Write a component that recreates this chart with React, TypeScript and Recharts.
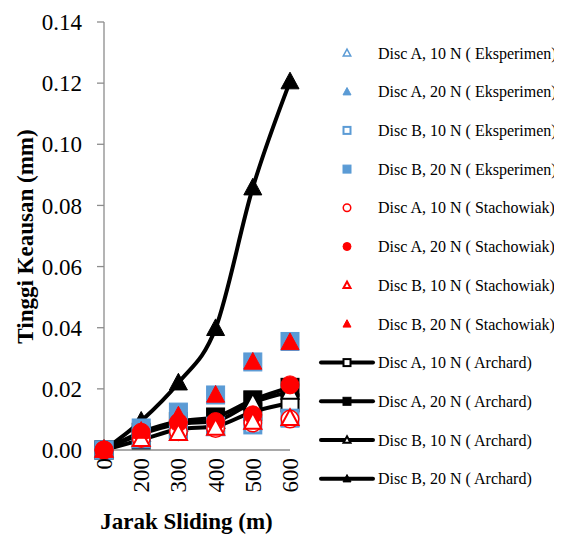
import React from "react";
import { ComposedChart, Line, XAxis, YAxis, Legend } from "recharts";

const jarak = ["0", "200", "300", "400", "500", "600"];
const yTicks = [0, 0.02, 0.04, 0.06, 0.08, 0.1, 0.12, 0.14];

// Eksperimen
const expA10 = [0, 0.003, 0.0055, 0.007, 0.009, 0.0101];
const expA20 = [0, 0.0068, 0.012, 0.018, 0.0288, 0.0352];
const expB10 = [0, 0.0042, 0.0062, 0.0078, 0.0082, 0.0104];
const expB20 = [0, 0.0072, 0.0124, 0.018, 0.0288, 0.0355];
// Stachowiak
const staA10 = [0, 0.0038, 0.006, 0.007, 0.0088, 0.0101];
const staA20 = [0, 0.0058, 0.009, 0.0093, 0.0115, 0.0213];
const staB10 = [0, 0.0035, 0.0055, 0.0072, 0.0092, 0.0104];
const staB20 = [0, 0.0062, 0.0112, 0.018, 0.0288, 0.0352];
// Archard
const arcA10 = [0, 0.0033, 0.0068, 0.0078, 0.0125, 0.0154];
const arcA20 = [0, 0.0058, 0.0093, 0.0108, 0.0164, 0.0205];
const arcB10 = [0, 0.0052, 0.0085, 0.0095, 0.0155, 0.019];
const arcB20 = [0, 0.0095, 0.022, 0.0398, 0.0858, 0.1205];

const data = jarak.map((x, i) => ({
  x,
  expA10: expA10[i],
  expA20: expA20[i],
  expB10: expB10[i],
  expB20: expB20[i],
  staA10: staA10[i],
  staA20: staA20[i],
  staB10: staB10[i],
  staB20: staB20[i],
  arcA10: arcA10[i],
  arcA20: arcA20[i],
  arcB10: arcB10[i],
  arcB20: arcB20[i],
}));

const BLUE = "#5b9bd5";
const RED = "#ff0000";
const FONT = '"Liberation Serif", "Times New Roman", serif';

type Shape = "tri" | "sq" | "circle";
type MarkerSpec = { shape: Shape; fill: string; stroke: string; sw: number };

function marker(m: MarkerSpec, cx: number, cy: number, s: number, key?: string) {
  const h = s / 2;
  if (m.shape === "circle") {
    return <circle key={key} cx={cx} cy={cy} r={h - m.sw / 2} fill={m.fill} stroke={m.stroke} strokeWidth={m.sw} />;
  }
  if (m.shape === "sq") {
    const a = h - m.sw / 2;
    return <rect key={key} x={cx - a} y={cy - a} width={a * 2} height={a * 2} fill={m.fill} stroke={m.stroke} strokeWidth={m.sw} />;
  }
  const a = h - m.sw / 2;
  const pts = `${cx},${cy - a * 1.05} ${cx + a},${cy + a * 0.8} ${cx - a},${cy + a * 0.8}`;
  return <polygon key={key} points={pts} fill={m.fill} stroke={m.stroke} strokeWidth={m.sw} strokeLinejoin="miter" />;
}

const dotOf = (m: MarkerSpec, s: number) => (p: any) =>
  marker(m, p.cx, p.cy, s, `${p.dataKey}-${p.index}`);

type Series = { key: string; name: string; m: MarkerSpec; line: boolean };

const series: Series[] = [
  { key: "expA10", name: "Disc A, 10 N ( Eksperimen)", m: { shape: "tri", fill: "#fff", stroke: BLUE, sw: 1.5 }, line: false },
  { key: "expA20", name: "Disc A, 20 N ( Eksperimen)", m: { shape: "tri", fill: BLUE, stroke: BLUE, sw: 1 }, line: false },
  { key: "expB10", name: "Disc B, 10 N ( Eksperimen)", m: { shape: "sq", fill: "#fff", stroke: BLUE, sw: 3 }, line: false },
  { key: "expB20", name: "Disc B, 20 N ( Eksperimen)", m: { shape: "sq", fill: BLUE, stroke: BLUE, sw: 1 }, line: false },
  { key: "staA10", name: "Disc A, 10 N ( Stachowiak)", m: { shape: "circle", fill: "#fff", stroke: RED, sw: 1.5 }, line: false },
  { key: "staA20", name: "Disc A, 20 N ( Stachowiak)", m: { shape: "circle", fill: RED, stroke: RED, sw: 1 }, line: false },
  { key: "staB10", name: "Disc B, 10 N ( Stachowiak)", m: { shape: "tri", fill: "#fff", stroke: RED, sw: 2 }, line: false },
  { key: "staB20", name: "Disc B, 20 N ( Stachowiak)", m: { shape: "tri", fill: RED, stroke: RED, sw: 1 }, line: false },
  { key: "arcA10", name: "Disc A, 10 N ( Archard)", m: { shape: "sq", fill: "#fff", stroke: "#000", sw: 2 }, line: true },
  { key: "arcA20", name: "Disc A, 20 N ( Archard)", m: { shape: "sq", fill: "#000", stroke: "#000", sw: 1 }, line: true },
  { key: "arcB10", name: "Disc B, 10 N ( Archard)", m: { shape: "tri", fill: "#fff", stroke: "#000", sw: 2 }, line: true },
  { key: "arcB20", name: "Disc B, 20 N ( Archard)", m: { shape: "tri", fill: "#000", stroke: "#000", sw: 1 }, line: true },
];

// draw the Archard lines first, markers of the other series on top
const drawOrder = [...series.filter((s) => s.line), ...series.filter((s) => !s.line)];

function LegendBox() {
  return (
    <svg width={254} height={500} style={{ display: "block", overflow: "visible" }}>
      {series.map((s, i) => {
        const y = 45 + i * 38.7;
        return (
          <g key={s.key}>
            {s.line && <line x1={13} x2={65} y1={y} y2={y} stroke="#000" strokeWidth={4} strokeLinecap="round" />}
            {marker({ ...s.m, sw: Math.min(s.m.sw, 2) }, 39, y, 9)}
            <text x={70} y={y} dy="0.35em" fontFamily={FONT} fontSize={16} fill="#000">
              {s.name}
            </text>
          </g>
        );
      })}
    </svg>
  );
}

function XTick(props: any) {
  const { x, y, payload } = props;
  return (
    <text
      x={x}
      y={y + 8}
      transform={`rotate(-90, ${x}, ${y + 8})`}
      textAnchor="end"
      dy="0.35em"
      fontFamily={FONT}
      fontSize={23}
      fill="#000"
    >
      {payload.value}
    </text>
  );
}

export default function App() {
  return (
    <ComposedChart
      width={554}
      height={530}
      data={data}
      style={{ fontFamily: FONT }}
      margin={{ top: 14, right: 272, bottom: 8, left: 0 }}
    >
      <XAxis
        dataKey="x"
        type="category"
        scale="point"
        height={80}
        tickLine={false}
        tickSize={0}
        tickMargin={0}
        axisLine={{ stroke: "#8c8c8c", strokeWidth: 1.3 }}
        tick={<XTick />}
        interval={0}
        label={{
          content: () => (
            <text
              x={178.5}
              y={521}
              textAnchor="middle"
              fontFamily={FONT}
              fontWeight="bold"
              fontSize={23}
              fill="#000"
            >
              Jarak Sliding (m)
            </text>
          ),
        }}
      />
      <YAxis
        width={96}
        domain={[0, 0.14]}
        ticks={yTicks}
        interval={0}
        tickSize={7}
        tickMargin={15}
        tickFormatter={(v: number) => v.toFixed(2)}
        tickLine={{ stroke: "#8c8c8c", strokeWidth: 1.3 }}
        axisLine={{ stroke: "#8c8c8c", strokeWidth: 1.3 }}
        tick={{ fontFamily: FONT, fontSize: 23, fill: "#000" }}
        label={{
          content: () => (
            <text
              x={25}
              y={228.5}
              transform="rotate(-90, 25, 228.5)"
              textAnchor="middle"
              fontFamily={FONT}
              fontWeight="bold"
              fontSize={23}
              fill="#000"
            >
              Tinggi Keausan (mm)
            </text>
          ),
        }}
      />
      <Legend
        layout="vertical"
        align="center"
        verticalAlign="middle"
        content={() => <LegendBox />}
        wrapperStyle={{ position: "absolute", left: 300, top: 0, width: 254, height: 500 }}
      />
      {drawOrder.map((s) => (
        <Line
          key={s.key}
          dataKey={s.key}
          name={s.name}
          type="monotone"
          stroke={s.line ? "#000" : "none"}
          strokeWidth={s.line ? 4 : 0}
          dot={dotOf(s.m, 19)}
          activeDot={false}
          isAnimationActive={false}
        />
      ))}
    </ComposedChart>
  );
}
